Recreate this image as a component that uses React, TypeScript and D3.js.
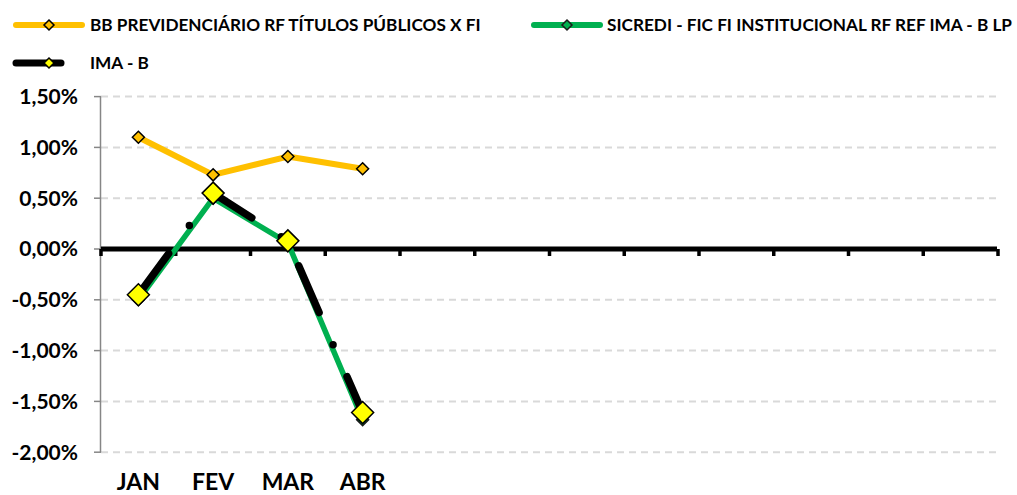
import React from "react";
import * as d3 from "d3";

const categories = ["JAN", "FEV", "MAR", "ABR", "", "", "", "", "", "", "", ""];
const bbValues = [1.1, 0.73, 0.91, 0.79];
const sicrediValues = [-0.5, 0.5, 0.06, -1.68];
const imabValues = [-0.45, 0.55, 0.08, -1.61];
const yTicks = [1.5, 1.0, 0.5, 0, -0.5, -1.0, -1.5, -2.0];
const seriesNames = [
  "BB PREVIDENCIÁRIO RF TÍTULOS PÚBLICOS X FI",
  "SICREDI - FIC FI INSTITUCIONAL RF REF IMA - B LP",
  "IMA - B",
];

const W = 1017;
const H = 495;
const FONT = "Lato, 'Open Sans', sans-serif";
const ORANGE = "#FFC000";
const GREEN = "#00B050";
const YELLOW = "#FFFF00";
const LEGEND_FS = 17.2;

function diamond(cx: number, cy: number, r: number) {
  return `M${cx},${cy - r}L${cx + r},${cy}L${cx},${cy + r}L${cx - r},${cy}Z`;
}

export default function App() {
  const x = d3
    .scaleBand<number>()
    .domain(categories.map((_, i) => i))
    .range([101, 998])
    .paddingInner(0)
    .paddingOuter(0);
  const y = d3.scaleLinear().domain([-2, 1.5]).range([452.2, 96.6]);
  const cx = (i: number) => (x(i) as number) + x.bandwidth() / 2;
  const line = d3
    .line<number>()
    .x((_, i) => cx(i))
    .y((d) => y(d));

  const fmt = (v: number) => v.toFixed(2).replace(".", ",") + "%";
  const boundaries = d3.range(categories.length + 1).map((i) =>
    i < categories.length ? (x(i) as number) : 998
  );
  const imaDash = "51 35 0 35";

  return (
    <svg
      width={W}
      height={H}
      style={{ position: "absolute", left: 0, top: 0, background: "#fff" }}
      fontFamily={FONT}
    >
      <rect width={W} height={H} fill="#fff" />
      {/* Legend */}
      <g>
        <line x1={16} x2={82} y1={25} y2={25} stroke={ORANGE} strokeWidth={6} strokeLinecap="round" />
        <path d={diamond(49, 25, 5)} fill={ORANGE} stroke="#000" strokeWidth={1.5} />
        <text x={90} y={25} dy="0.35em" fontSize={LEGEND_FS} fontWeight={700} fill="#000">
          {seriesNames[0]}
        </text>
        <line x1={534} x2={600} y1={25} y2={25} stroke={GREEN} strokeWidth={6} strokeLinecap="round" />
        <path d={diamond(567, 25, 5)} fill={GREEN} stroke="#1a1a1a" strokeWidth={1.5} />
        <text x={607} y={25} dy="0.35em" fontSize={LEGEND_FS} fontWeight={700} fill="#000">
          {seriesNames[1]}
        </text>
        <line x1={16} x2={61} y1={63} y2={63} stroke="#000" strokeWidth={7} strokeLinecap="round" />
        <path d={diamond(49, 63, 5)} fill={YELLOW} stroke="#000" strokeWidth={1.5} />
        <text x={90} y={63} dy="0.35em" fontSize={LEGEND_FS} fontWeight={700} fill="#000">
          {seriesNames[2]}
        </text>
      </g>

      {/* Gridlines */}
      {yTicks
        .filter((t) => t !== 0)
        .map((t) => (
          <line
            key={"g" + t}
            x1={101}
            x2={998}
            y1={y(t)}
            y2={y(t)}
            stroke="#d9d9d9"
            strokeWidth={2}
            strokeDasharray="7 5"
          />
        ))}

      {/* Y axis */}
      <line x1={100.5} x2={100.5} y1={y(1.5)} y2={y(-2)} stroke="#868686" strokeWidth={1.5} />
      {yTicks.map((t) => (
        <g key={"yt" + t}>
          <line x1={94} x2={101} y1={y(t)} y2={y(t)} stroke="#868686" strokeWidth={1.5} />
          <text
            x={78}
            y={y(t)}
            dy="0.35em"
            textAnchor="end"
            fontSize={21}
            fontWeight={700}
            fill="#000"
          >
            {fmt(t)}
          </text>
        </g>
      ))}

      {/* X axis at zero */}
      <line x1={101} x2={997} y1={y(0)} y2={y(0)} stroke="#000" strokeWidth={5} />
      {boundaries.map((b, i) => (
        <line
          key={"xt" + i}
          x1={b}
          x2={b}
          y1={y(0)}
          y2={y(0) + 7}
          stroke="#000"
          strokeWidth={3.5}
        />
      ))}
      {categories.map((c, i) =>
        c ? (
          <text
            key={"xl" + i}
            x={cx(i)}
            y={490}
            textAnchor="middle"
            fontSize={23}
            fontWeight={700}
            fill="#000"
          >
            {c}
          </text>
        ) : null
      )}

      {/* Series */}
      <path d={line(bbValues) || ""} fill="none" stroke={ORANGE} strokeWidth={6} strokeLinejoin="round" />
      {bbValues.map((v, i) => (
        <path key={"bb" + i} d={diamond(cx(i), y(v), 6)} fill={ORANGE} stroke="#000" strokeWidth={1.5} />
      ))}

      <path d={line(sicrediValues) || ""} fill="none" stroke={GREEN} strokeWidth={5.5} strokeLinejoin="round" />
      {sicrediValues.map((v, i) => (
        <path key={"sc" + i} d={diamond(cx(i), y(v), 6)} fill={GREEN} stroke="#1a1a1a" strokeWidth={1.5} />
      ))}

      <path
        d={line(imabValues) || ""}
        fill="none"
        stroke="#000"
        strokeWidth={7.5}
        strokeLinecap="round"
        strokeLinejoin="round"
        strokeDasharray={imaDash}
      />
      {imabValues.map((v, i) => (
        <path key={"im" + i} d={diamond(cx(i), y(v), 11)} fill={YELLOW} stroke="#000" strokeWidth={1.5} />
      ))}
    </svg>
  );
}
